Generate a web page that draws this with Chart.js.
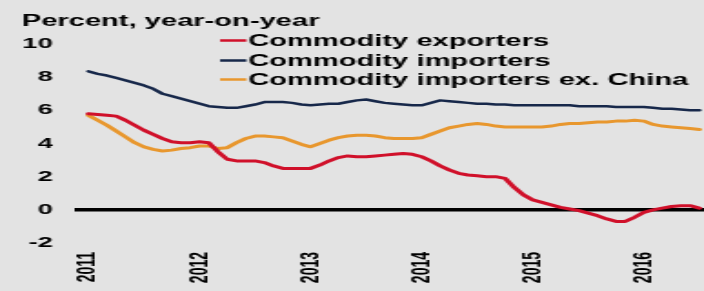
<!DOCTYPE html>
<html>
<head>
<meta charset="utf-8">
<script src="https://cdn.jsdelivr.net/npm/chart.js@4.4.1/dist/chart.umd.min.js"></script>
<style>
  html, body { margin: 0; padding: 0; background: #e3e3e3; overflow: hidden; }
  canvas { display: block; background: #e3e3e3; }
</style>
</head>
<body>
<canvas id="c" width="387" height="291" style="width:704px;height:291px;"></canvas>
<script>
// Monthly data, Jan 2011 .. Jul 2016 (percent, year-on-year)
const years = ['2011', '2012', '2013', '2014', '2015', '2016'];
const titleText = 'Percent, year-on-year';
const seriesNames = ['Commodity exporters', 'Commodity importers', 'Commodity importers ex. China'];

const exporters = [
  5.8, 5.75, 5.7, 5.65, 5.4, 5.1, 4.8, 4.55, 4.3, 4.1, 4.05, 4.05,
  4.1, 4.05, 3.5, 3.05, 2.95, 2.95, 2.95, 2.85, 2.65, 2.5, 2.5, 2.5,
  2.5, 2.7, 2.95, 3.15, 3.25, 3.2, 3.2, 3.25, 3.3, 3.35, 3.4, 3.35,
  3.2, 2.95, 2.65, 2.4, 2.2, 2.1, 2.05, 2.0, 2.0, 1.9, 1.35, 0.9,
  0.6, 0.45, 0.3, 0.15, 0.05, -0.05, -0.2, -0.35, -0.55, -0.7, -0.7, -0.45,
  -0.15, 0.0, 0.1, 0.2, 0.25, 0.25, 0.1
];
const importers = [
  8.35, 8.2, 8.1, 7.95, 7.8, 7.65, 7.5, 7.3, 7.0, 6.85, 6.7, 6.55,
  6.4, 6.25, 6.2, 6.15, 6.15, 6.25, 6.35, 6.5, 6.5, 6.5, 6.45, 6.35,
  6.3, 6.35, 6.4, 6.4, 6.5, 6.6, 6.65, 6.55, 6.45, 6.4, 6.35, 6.3,
  6.3, 6.45, 6.6, 6.55, 6.5, 6.45, 6.4, 6.4, 6.35, 6.35, 6.3, 6.3,
  6.3, 6.3, 6.3, 6.3, 6.3, 6.25, 6.25, 6.25, 6.25, 6.2, 6.2, 6.2,
  6.2, 6.15, 6.1, 6.1, 6.05, 6.0, 6.0
];
const importersExChina = [
  5.7, 5.4, 5.1, 4.75, 4.4, 4.05, 3.8, 3.65, 3.55, 3.6, 3.7, 3.75,
  3.85, 3.85, 3.7, 3.75, 4.05, 4.3, 4.45, 4.45, 4.4, 4.35, 4.15, 3.95,
  3.8, 4.0, 4.2, 4.35, 4.45, 4.5, 4.5, 4.45, 4.35, 4.3, 4.3, 4.3,
  4.35, 4.55, 4.75, 4.95, 5.05, 5.15, 5.2, 5.15, 5.05, 5.0, 5.0, 5.0,
  5.0, 5.0, 5.05, 5.15, 5.2, 5.2, 5.25, 5.3, 5.3, 5.35, 5.35, 5.4,
  5.35, 5.15, 5.05, 5.0, 4.95, 4.9, 4.85
];
const yTicks = [-2, 0, 2, 4, 6, 8, 10];

const toPoints = arr => arr.map((v, i) => ({ x: i, y: v }));

const colors = ['#d0102a', '#17284a', '#e8972e'];
const widths = [3, 2.5, 3];

const fontFamily = '"Liberation Sans", Arial, sans-serif';

const titleLegendPlugin = {
  id: 'titleLegend',
  afterDraw(chart) {
    const ctx = chart.ctx;
    ctx.save();
    ctx.fillStyle = '#000';
    ctx.font = 'bold 16px ' + fontFamily;
    ctx.textBaseline = 'alphabetic';
    ctx.textAlign = 'left';
    ctx.fillText(titleText, 12, 26);
    const rows = [40.5, 60.5, 79.5];
    chart.data.datasets.forEach((ds, i) => {
      const y = rows[i];
      ctx.strokeStyle = ds.borderColor;
      ctx.lineWidth = 2.5;
      ctx.beginPath();
      ctx.moveTo(121, y);
      ctx.lineTo(135.5, y);
      ctx.stroke();
      ctx.fillStyle = '#000';
      ctx.textBaseline = 'middle';
      ctx.fillText(ds.label, 136.5, y + 1);
    });
    ctx.restore();
  }
};

new Chart(document.getElementById('c'), {
  type: 'line',
  data: {
    datasets: [
      { label: seriesNames[0], data: toPoints(exporters), borderColor: colors[0], borderWidth: widths[0] },
      { label: seriesNames[1], data: toPoints(importers), borderColor: colors[1], borderWidth: widths[1] },
      { label: seriesNames[2], data: toPoints(importersExChina), borderColor: colors[2], borderWidth: widths[2] }
    ]
  },
  options: {
    responsive: false,
    devicePixelRatio: 1,
    animation: false,
    events: [],
    layout: { padding: { top: 44, left: 0, right: 0, bottom: 0 } },
    elements: {
      point: { radius: 0 },
      line: { tension: 0, borderCapStyle: 'round', borderJoinStyle: 'round' }
    },
    plugins: {
      legend: { display: false },
      title: { display: false },
      tooltip: { enabled: false }
    },
    scales: {
      x: {
        type: 'linear',
        min: -1.5,
        max: 66.5,
        grid: { display: false, drawTicks: false },
        border: { display: false },
        afterBuildTicks: scale => { scale.ticks = years.map((y, i) => ({ value: i * 12 })); },
        afterFit: scale => { scale.height = 48; },
        ticks: {
          autoSkip: false,
          minRotation: 90,
          maxRotation: 90,
          padding: 9,
          color: '#000',
          font: { family: fontFamily, size: 14, weight: 'bold' },
          callback: v => years[Math.round(v / 12)]
        }
      },
      y: {
        min: -2,
        max: 10,
        afterBuildTicks: scale => { scale.ticks = yTicks.map(v => ({ value: v })); },
        afterFit: scale => { scale.width = 41; },
        grid: {
          drawTicks: false,
          color: c => (c.tick && c.tick.value === 0) ? '#000' : 'rgba(0,0,0,0)',
          lineWidth: c => (c.tick && c.tick.value === 0) ? 3.5 : 0
        },
        border: { display: false },
        ticks: {
          padding: 12,
          color: '#000',
          font: { family: fontFamily, size: 15, weight: 'bold' },
          callback: v => String(v)
        }
      }
    }
  },
  plugins: [titleLegendPlugin]
});
</script>
</body>
</html>
